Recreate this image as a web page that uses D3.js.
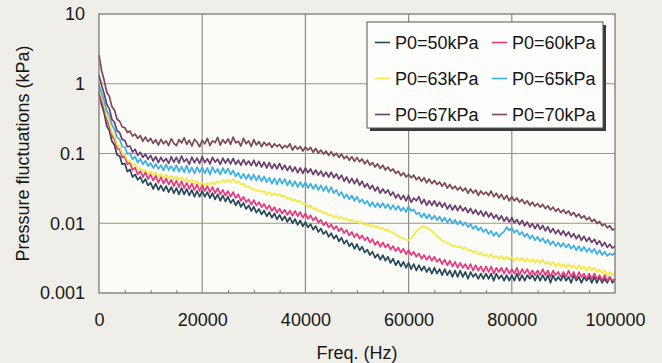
<!DOCTYPE html>
<html><head><meta charset="utf-8">
<script src="https://cdn.jsdelivr.net/npm/d3@7"></script>
<style>body{margin:0;background:#efeee8;}svg{display:block;}</style>
</head><body>
<svg id="chart" width="662" height="363"></svg>
<script>
const freq = [0,500,1000,1500,2000,2500,3000,3500,4000,4500,5000,5500,6000,6500,7000,7500,8000,8500,9000,9500,
10000,10500,11000,11500,12000,12500,13000,13500,14000,14500,15000,15500,16000,16500,17000,17500,18000,18500,19000,19500,
20000,20500,21000,21500,22000,22500,23000,23500,24000,24500,25000,25500,26000,26500,27000,27500,28000,28500,29000,29500,
30000,30500,31000,31500,32000,32500,33000,33500,34000,34500,35000,35500,36000,36500,37000,37500,38000,38500,39000,39500,
40000,40500,41000,41500,42000,42500,43000,43500,44000,44500,45000,45500,46000,46500,47000,47500,48000,48500,49000,49500,
50000,50500,51000,51500,52000,52500,53000,53500,54000,54500,55000,55500,56000,56500,57000,57500,58000,58500,59000,59500,
60000,60500,61000,61500,62000,62500,63000,63500,64000,64500,65000,65500,66000,66500,67000,67500,68000,68500,69000,69500,
70000,70500,71000,71500,72000,72500,73000,73500,74000,74500,75000,75500,76000,76500,77000,77500,78000,78500,79000,79500,
80000,80500,81000,81500,82000,82500,83000,83500,84000,84500,85000,85500,86000,86500,87000,87500,88000,88500,89000,89500,
90000,90500,91000,91500,92000,92500,93000,93500,94000,94500,95000,95500,96000,96500,97000,97500,98000,98500,99000,99500,100000];

const p50 = [0.74,0.5,0.38,0.25,0.215,0.15,0.132,0.095,0.092,0.07,
0.072,0.055,0.059,0.046,0.05,0.042,0.046,0.038,0.043,0.035,
0.038,0.031,0.037,0.03,0.035,0.029,0.034,0.028,0.033,0.027,
0.032,0.026,0.032,0.026,0.031,0.025,0.03,0.024,0.029,0.024,
0.029,0.024,0.028,0.023,0.027,0.022,0.026,0.021,0.025,0.0205,
0.024,0.0195,0.022,0.018,0.021,0.0172,0.0195,0.016,0.018,0.015,
0.0172,0.0142,0.016,0.0134,0.0152,0.0126,0.0144,0.012,0.0138,0.0114,
0.0132,0.011,0.0126,0.0105,0.0121,0.01,0.0115,0.0095,0.011,0.009,
0.0104,0.0087,0.0097,0.0081,0.0091,0.0075,0.0084,0.007,0.0077,0.0064,
0.0072,0.006,0.0067,0.0055,0.0062,0.0051,0.0057,0.0047,0.0052,0.0043,
0.005,0.0041,0.0046,0.0038,0.0042,0.0035,0.0039,0.0032,0.0036,0.003,
0.0035,0.0029,0.0033,0.0027,0.0031,0.0025,0.0029,0.0024,0.0028,0.0023,
0.0027,0.0022,0.0026,0.0021,0.0025,0.0021,0.0024,0.002,0.0023,0.0019,
0.0023,0.0019,0.0022,0.0018,0.0022,0.0018,0.0021,0.0017,0.0021,0.0017,
0.0021,0.0017,0.002,0.0016,0.002,0.0017,0.0019,0.0016,0.0019,0.0016,
0.0019,0.0016,0.0019,0.0015,0.0019,0.0016,0.0018,0.0015,0.0018,0.0015,
0.0018,0.0015,0.0019,0.0015,0.0018,0.0015,0.0018,0.0016,0.0018,0.0015,
0.0018,0.0015,0.0018,0.0015,0.0018,0.0014,0.0018,0.0015,0.0017,0.0015,
0.0018,0.0015,0.0017,0.0014,0.0018,0.0015,0.0017,0.0014,0.0017,0.0015,
0.0017,0.0014,0.0017,0.0014,0.0017,0.0014,0.0016,0.0014,0.0017,0.0014,0.0016];

const p60 = [0.82,0.57,0.44,0.3,0.25,0.18,0.16,0.118,0.115,0.088,
0.09,0.07,0.074,0.058,0.063,0.05,0.056,0.046,0.054,0.043,
0.05,0.041,0.048,0.038,0.046,0.037,0.044,0.036,0.042,0.034,
0.041,0.033,0.04,0.032,0.038,0.031,0.037,0.03,0.036,0.029,
0.035,0.029,0.034,0.028,0.033,0.027,0.032,0.026,0.03,0.025,
0.029,0.024,0.028,0.023,0.026,0.021,0.024,0.02,0.022,0.0185,
0.0215,0.018,0.02,0.017,0.019,0.016,0.018,0.015,0.017,0.0142,
0.0162,0.0138,0.0156,0.0132,0.0152,0.0128,0.015,0.0126,0.0145,0.012,
0.0138,0.0116,0.013,0.011,0.0122,0.0102,0.0112,0.0094,0.0104,0.0087,
0.0096,0.0082,0.0091,0.0077,0.0085,0.0072,0.008,0.0067,0.0075,0.0063,
0.0071,0.006,0.0067,0.0057,0.0063,0.0053,0.0059,0.0049,0.0055,0.0046,
0.0053,0.0045,0.005,0.0042,0.0047,0.004,0.0045,0.0038,0.0043,0.0036,
0.0041,0.0035,0.0039,0.0033,0.0037,0.0031,0.0035,0.003,0.0034,0.0029,
0.0033,0.0028,0.0031,0.0026,0.003,0.0025,0.0029,0.0024,0.0028,0.0023,
0.0027,0.0023,0.0026,0.0022,0.0026,0.0021,0.0025,0.0021,0.0024,0.002,
0.0024,0.002,0.0024,0.0019,0.0023,0.002,0.0023,0.0019,0.0023,0.0019,
0.0022,0.0019,0.0023,0.0018,0.0022,0.0019,0.0022,0.0018,0.0021,0.0018,
0.0021,0.0018,0.0022,0.0018,0.0021,0.0017,0.0021,0.0018,0.002,0.0017,
0.002,0.0017,0.0021,0.0017,0.002,0.0016,0.002,0.0017,0.0019,0.0016,
0.0019,0.0016,0.0019,0.0016,0.0018,0.0015,0.0018,0.0015,0.0017,0.0015,0.0016];

const p63 = [0.87,0.66,0.5,0.35,0.29,0.2,0.175,0.135,0.126,0.1,
0.097,0.08,0.079,0.068,0.07,0.06,0.062,0.055,0.058,0.052,
0.055,0.049,0.053,0.047,0.051,0.045,0.05,0.044,0.048,0.043,
0.047,0.042,0.046,0.04,0.044,0.039,0.042,0.037,0.04,0.036,
0.038,0.035,0.038,0.036,0.039,0.036,0.04,0.038,0.042,0.039,
0.042,0.039,0.043,0.038,0.04,0.036,0.037,0.033,0.034,0.031,
0.031,0.029,0.03,0.028,0.029,0.026,0.028,0.025,0.027,0.025,
0.026,0.024,0.025,0.022,0.023,0.021,0.022,0.02,0.021,0.019,
0.019,0.017,0.018,0.016,0.0165,0.015,0.0152,0.0138,0.0142,0.013,
0.0132,0.0122,0.0128,0.0117,0.0122,0.0113,0.0118,0.0108,0.0112,0.0104,
0.0107,0.0099,0.0103,0.0095,0.0098,0.0091,0.0094,0.0087,0.009,0.0084,
0.0085,0.0079,0.0081,0.0075,0.0074,0.0068,0.0066,0.0062,0.006,0.0058,
0.0057,0.0062,0.0068,0.0076,0.0083,0.0088,0.009,0.0087,0.0082,0.0077,
0.0072,0.0065,0.0061,0.0056,0.0055,0.0051,0.0051,0.0047,0.0048,0.0045,
0.0047,0.0043,0.0045,0.0041,0.0042,0.0038,0.004,0.0036,0.0038,0.0034,
0.0036,0.0033,0.0036,0.0032,0.0034,0.0031,0.0034,0.003,0.0033,0.003,
0.0033,0.0029,0.0032,0.0029,0.0032,0.0028,0.0031,0.0028,0.0031,0.0027,
0.003,0.0027,0.003,0.0026,0.0028,0.0025,0.0028,0.0024,0.0027,0.0024,
0.0026,0.0023,0.0026,0.0023,0.0025,0.0022,0.0025,0.0022,0.0024,0.0021,
0.0024,0.0021,0.0023,0.002,0.0022,0.0019,0.0021,0.0018,0.002,0.0018,0.0019];

const p65 = [0.96,0.74,0.57,0.41,0.35,0.26,0.22,0.17,0.16,0.125,
0.124,0.099,0.101,0.083,0.09,0.074,0.084,0.07,0.079,0.066,
0.073,0.062,0.071,0.06,0.068,0.057,0.07,0.058,0.066,0.056,
0.068,0.055,0.065,0.054,0.067,0.053,0.063,0.052,0.064,0.054,
0.063,0.052,0.062,0.05,0.064,0.053,0.06,0.05,0.062,0.052,
0.061,0.05,0.057,0.047,0.053,0.044,0.051,0.043,0.05,0.042,
0.05,0.041,0.048,0.04,0.047,0.039,0.045,0.037,0.044,0.036,
0.044,0.037,0.043,0.035,0.041,0.034,0.04,0.033,0.039,0.033,
0.039,0.032,0.037,0.031,0.036,0.03,0.035,0.029,0.034,0.028,
0.033,0.027,0.03,0.025,0.028,0.023,0.026,0.022,0.025,0.021,
0.024,0.02,0.022,0.019,0.021,0.0175,0.02,0.017,0.0195,0.0168,
0.0195,0.0165,0.0188,0.0158,0.0182,0.0155,0.0178,0.015,0.0168,0.0145,
0.0175,0.015,0.0158,0.0135,0.0142,0.0122,0.0138,0.0118,0.0134,0.0114,
0.0128,0.0111,0.0124,0.0106,0.0121,0.0102,0.0116,0.0099,0.0112,0.0096,
0.0108,0.0093,0.0103,0.0088,0.0097,0.0083,0.0092,0.0079,0.0087,0.0075,
0.0082,0.007,0.0078,0.0066,0.0074,0.0064,0.0071,0.0076,0.0088,0.0079,
0.0085,0.0073,0.008,0.0068,0.0075,0.0064,0.0071,0.006,0.0067,0.0057,
0.0064,0.0055,0.0061,0.0052,0.0058,0.0049,0.0055,0.0047,0.0053,0.0046,
0.0052,0.0045,0.005,0.0043,0.0048,0.0041,0.0047,0.004,0.0046,0.0039,
0.0044,0.0038,0.0043,0.0036,0.0041,0.0035,0.0039,0.0034,0.0037,0.0035,0.0038];

const p67 = [1.34,0.95,0.72,0.51,0.44,0.31,0.28,0.21,0.2,0.158,
0.155,0.125,0.128,0.105,0.115,0.094,0.104,0.088,0.098,0.083,
0.094,0.078,0.09,0.074,0.088,0.076,0.085,0.072,0.09,0.075,
0.088,0.073,0.092,0.076,0.084,0.07,0.089,0.074,0.086,0.072,
0.09,0.074,0.084,0.071,0.088,0.075,0.083,0.07,0.086,0.073,
0.084,0.071,0.085,0.07,0.08,0.068,0.082,0.069,0.078,0.067,
0.08,0.066,0.077,0.064,0.075,0.062,0.074,0.061,0.071,0.06,
0.072,0.059,0.068,0.057,0.066,0.055,0.064,0.053,0.062,0.052,
0.062,0.053,0.06,0.05,0.058,0.049,0.056,0.047,0.054,0.046,
0.054,0.045,0.051,0.043,0.049,0.04,0.046,0.038,0.044,0.037,
0.043,0.035,0.04,0.033,0.037,0.031,0.035,0.029,0.033,0.027,
0.031,0.027,0.03,0.025,0.028,0.023,0.026,0.022,0.025,0.021,
0.025,0.02,0.023,0.021,0.024,0.019,0.022,0.018,0.021,0.018,
0.021,0.0175,0.02,0.017,0.0195,0.016,0.0185,0.0155,0.018,0.0152,
0.0178,0.015,0.0168,0.0142,0.0163,0.0137,0.0156,0.0132,0.015,0.0126,
0.0146,0.0123,0.014,0.0118,0.0132,0.0112,0.0128,0.0107,0.0122,0.0104,
0.012,0.0101,0.0113,0.0096,0.011,0.0092,0.0104,0.0088,0.0099,0.0084,
0.0097,0.0082,0.0093,0.0078,0.0089,0.0074,0.0084,0.0071,0.008,0.0068,
0.0078,0.0066,0.0075,0.0063,0.0071,0.006,0.0068,0.0057,0.0065,0.0055,
0.0062,0.0053,0.0059,0.005,0.0056,0.0047,0.0053,0.0045,0.005,0.0044,0.0047];

const p70 = [2.6,1.55,1.12,0.76,0.66,0.47,0.42,0.31,0.29,0.24,
0.235,0.2,0.21,0.178,0.19,0.165,0.18,0.15,0.172,0.148,
0.165,0.14,0.158,0.132,0.16,0.138,0.152,0.13,0.163,0.14,
0.13,0.158,0.142,0.168,0.135,0.155,0.128,0.16,0.145,0.125,
0.155,0.138,0.165,0.13,0.152,0.143,0.17,0.132,0.158,0.14,
0.162,0.135,0.172,0.142,0.15,0.128,0.165,0.138,0.152,0.126,
0.158,0.133,0.148,0.125,0.145,0.13,0.142,0.122,0.138,0.126,
0.135,0.118,0.13,0.122,0.138,0.112,0.128,0.115,0.126,0.108,
0.124,0.112,0.122,0.104,0.118,0.101,0.112,0.098,0.108,0.094,
0.106,0.092,0.101,0.088,0.098,0.084,0.092,0.08,0.09,0.077,
0.088,0.076,0.084,0.071,0.08,0.068,0.074,0.064,0.071,0.061,
0.068,0.058,0.064,0.056,0.06,0.052,0.056,0.048,0.053,0.046,
0.05,0.045,0.049,0.042,0.046,0.04,0.045,0.038,0.043,0.037,
0.041,0.036,0.039,0.034,0.038,0.032,0.036,0.031,0.034,0.03,
0.033,0.029,0.032,0.027,0.031,0.027,0.03,0.025,0.029,0.026,
0.028,0.025,0.029,0.024,0.027,0.023,0.026,0.022,0.025,0.021,
0.024,0.021,0.023,0.02,0.022,0.019,0.021,0.018,0.02,0.0175,
0.0192,0.017,0.0186,0.0162,0.0178,0.0155,0.017,0.0148,0.0162,0.0142,
0.0156,0.0138,0.015,0.013,0.0143,0.0124,0.0136,0.0118,0.0128,0.0112,
0.0122,0.0106,0.0114,0.0099,0.0106,0.0092,0.0098,0.0086,0.0092,0.008,0.0084];

const seriesNames = ["P0=50kPa","P0=60kPa","P0=63kPa","P0=65kPa","P0=67kPa","P0=70kPa"];
const seriesValues = [p50,p60,p63,p65,p67,p70];
const seriesColors = ["#27475a","#e8387e","#f6e83e","#3cb0e2","#6c3e70","#7c4a57"];

const xTicks = [0,20000,40000,60000,80000,100000];
const xTickLabels = ["0","20000","40000","60000","80000","100000"];
const xMinorTicks = [5000,10000,15000,25000,30000,35000,45000,50000,55000,65000,70000,75000,85000,90000,95000];
const yTicks = [0.001,0.01,0.1,1,10];
const yTickLabels = ["0.001","0.01","0.1","1","10"];

const svg = d3.select("#chart");
const L = 99, R = 615, T = 14, B = 293;
const x = d3.scaleLinear().domain([0,100000]).range([L,R]);
const y = d3.scaleLog().domain([0.001,10]).range([B,T]);
const font = "Arial, 'Liberation Sans', sans-serif";
const ink = "#161616";

svg.append("rect").attr("width",662).attr("height",363).attr("fill","#efeee8");
svg.append("rect").attr("x",L).attr("y",T).attr("width",R-L).attr("height",B-T).attr("fill","#fbfbf8");

// gridlines
svg.append("g").selectAll("line").data(yTicks.slice(1,4)).join("line")
  .attr("x1",L).attr("x2",R).attr("y1",d=>y(d)).attr("y2",d=>y(d))
  .attr("stroke","#9c9772").attr("stroke-width",1.2);
svg.append("g").selectAll("line").data(xTicks.slice(1,5)).join("line")
  .attr("x1",d=>x(d)).attr("x2",d=>x(d)).attr("y1",T).attr("y2",B)
  .attr("stroke","#8d8d88").attr("stroke-width",1.2);

// series
const line = d3.line().x((d,i)=>x(freq[i])).y(d=>y(d));
seriesValues.forEach((vals,k)=>{
  svg.append("path").datum(vals).attr("d",line)
    .attr("fill","none").attr("stroke",seriesColors[k])
    .attr("stroke-width",1.7).attr("stroke-linejoin","round");
});

// border
svg.append("rect").attr("x",L).attr("y",T).attr("width",R-L).attr("height",B-T)
  .attr("fill","none").attr("stroke","#7a7a74").attr("stroke-width",1.3);

// minor ticks
const minor = svg.append("g").attr("transform",`translate(0,${B})`)
  .call(d3.axisBottom(x).tickValues(xMinorTicks).tickSize(-3).tickFormat(""));
minor.select(".domain").remove();
minor.selectAll("line").attr("stroke","#7a7a74");

// axes
const xa = svg.append("g").attr("transform",`translate(0,${B})`)
  .call(d3.axisBottom(x).tickValues(xTicks).tickSize(0).tickPadding(20)
    .tickFormat((d,i)=>xTickLabels[i]));
xa.select(".domain").remove();
xa.selectAll("text").attr("font-family",font).attr("font-size",18).attr("fill",ink);

const ya = svg.append("g").attr("transform",`translate(${L},0)`)
  .call(d3.axisLeft(y).tickValues(yTicks).tickSize(0).tickPadding(14)
    .tickFormat((d,i)=>yTickLabels[i]));
ya.select(".domain").remove();
ya.selectAll("text").attr("font-family",font).attr("font-size",18).attr("fill",ink);

svg.append("text").attr("x",(L+R)/2).attr("y",359).attr("text-anchor","middle")
  .attr("font-family",font).attr("font-size",18).attr("fill",ink).text("Freq. (Hz)");
svg.append("text").attr("transform","rotate(-90)").attr("x",-(T+B)/2).attr("y",29)
  .attr("text-anchor","middle").attr("font-family",font).attr("font-size",18)
  .attr("fill",ink).text("Pressure fluctuations (kPa)");

// legend
const lg = svg.append("g");
lg.append("rect").attr("x",370).attr("y",25).attr("width",236).attr("height",106).attr("fill","#3a3a3a");
lg.append("rect").attr("x",367).attr("y",22).attr("width",236).attr("height",106)
  .attr("fill","#fdfdfb").attr("stroke","#555").attr("stroke-width",1);
seriesNames.forEach((name,k)=>{
  const col = k%2, row = Math.floor(k/2);
  const lx = col===0 ? 375 : 492;
  const by = 48.5 + row*36;
  lg.append("line").attr("x1",lx).attr("x2",lx+15).attr("y1",by-6).attr("y2",by-6)
    .attr("stroke",seriesColors[k]).attr("stroke-width",1.6);
  lg.append("text").attr("x",lx+20).attr("y",by).attr("font-family",font)
    .attr("font-size",18).attr("fill",ink).text(name);
});
</script>
</body></html>
